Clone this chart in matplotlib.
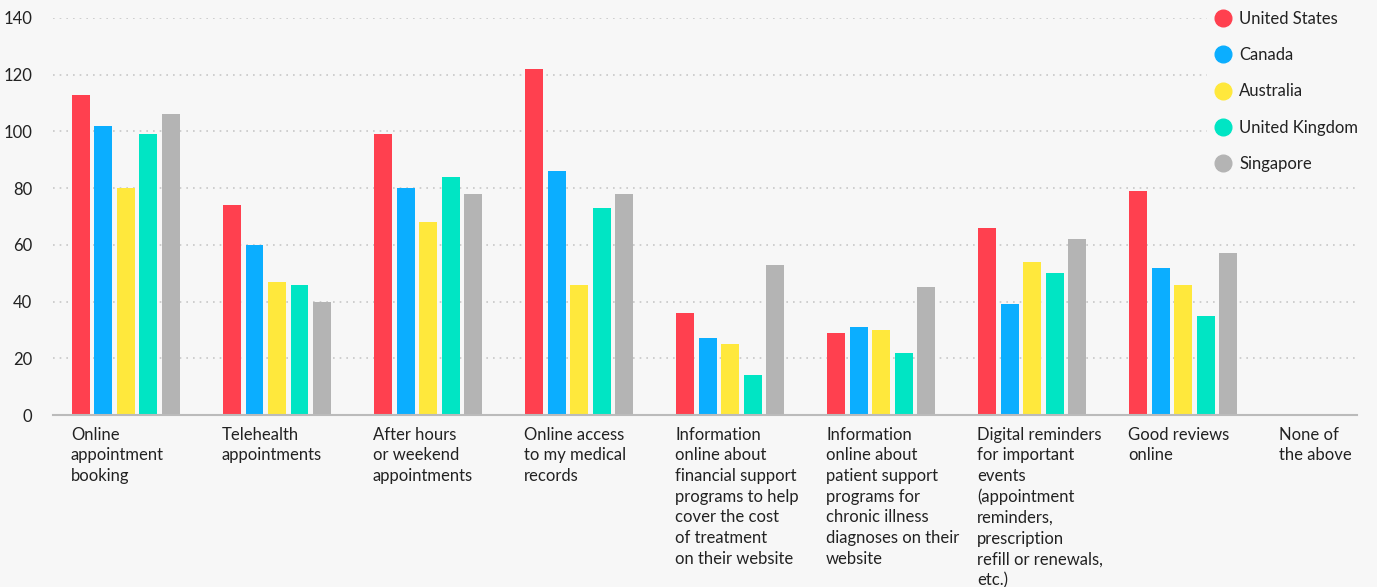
import matplotlib
matplotlib.use("Agg")
import matplotlib.pyplot as plt
import matplotlib.transforms as mtransforms
from matplotlib.lines import Line2D

categories = [
    "Online\nappointment\nbooking",
    "Telehealth\nappointments",
    "After hours\nor weekend\nappointments",
    "Online access\nto my medical\nrecords",
    "Information\nonline about\nfinancial support\nprograms to help\ncover the cost\nof treatment\non their website",
    "Information\nonline about\npatient support\nprograms for\nchronic illness\ndiagnoses on their\nwebsite",
    "Digital reminders\nfor important\nevents\n(appointment\nreminders,\nprescription\nrefill or renewals,\netc.)",
    "Good reviews\nonline",
    "None of\nthe above",
]
series_names = ["United States", "Canada", "Australia", "United Kingdom", "Singapore"]
united_states = [113, 74, 99, 122, 36, 29, 66, 79, 0]
canada = [102, 60, 80, 86, 27, 31, 39, 52, 0]
australia = [80, 47, 68, 46, 25, 30, 54, 46, 0]
united_kingdom = [99, 46, 84, 73, 14, 22, 50, 35, 0]
singapore = [106, 40, 78, 78, 53, 45, 62, 57, 0]
yticks = [0, 20, 40, 60, 80, 100, 120, 140]

series = [united_states, canada, australia, united_kingdom, singapore]
colors = ["#FF404F", "#0BAEFF", "#FFE83C", "#00E5C4", "#B4B4B4"]
bg = "#F7F7F7"

plt.rcParams['font.family'] = ['Lato', 'DejaVu Sans']

fig = plt.figure(figsize=(13.77, 5.87), dpi=100, facecolor=bg)
ax = fig.add_axes([53/1377, 1-415/587, (1357-53)/1377, (415-18)/587])
ax.set_facecolor(bg)

pitch = 0.149
width = 0.119
offsets = [(k - 2) * pitch for k in range(5)]
for k, (vals, col) in enumerate(zip(series, colors)):
    xs = [i + offsets[k] for i in range(len(categories))]
    ax.bar(xs, vals, width=width, color=col, zorder=3, label=series_names[k])

ax.set_xlim(-0.483, 8.15)
ax.set_ylim(0, 140)
ax.set_yticks(yticks)
ax.set_yticklabels([str(t) for t in yticks], fontsize=12, color="#222222")
ax.tick_params(axis='y', length=0, pad=15)
ax.set_xticks([])
ax.yaxis.grid(True, linestyle=(0, (1, 3)), color="#C8C8C8", linewidth=1.2, zorder=0)
for s in ["top", "right", "left"]:
    ax.spines[s].set_visible(False)
ax.spines["bottom"].set_color("#BBBBBB")
ax.spines["bottom"].set_linewidth(1.5)
ax.spines["bottom"].set_zorder(4)

trans = mtransforms.blended_transform_factory(ax.transData, ax.transAxes)
for i, lab in enumerate(categories):
    ax.text(i - 0.365, -0.029, lab, transform=trans, ha="left", va="top",
            fontsize=12, color="#222222", linespacing=1.36, clip_on=False)

handles = [Line2D([0], [0], marker='o', linestyle='', markersize=12,
                  markerfacecolor=c, markeredgecolor=c) for c in colors]
leg = ax.legend(handles, series_names, loc="upper right", bbox_to_anchor=(1.006, 1.035),
                frameon=True, facecolor=bg, edgecolor=bg, framealpha=1,
                fontsize=12, labelspacing=1.22, handletextpad=0.35,
                handlelength=1.2, borderaxespad=0)
for t in leg.get_texts():
    t.set_color("#222222")

fig.savefig("out.png", dpi=100, facecolor=bg)
